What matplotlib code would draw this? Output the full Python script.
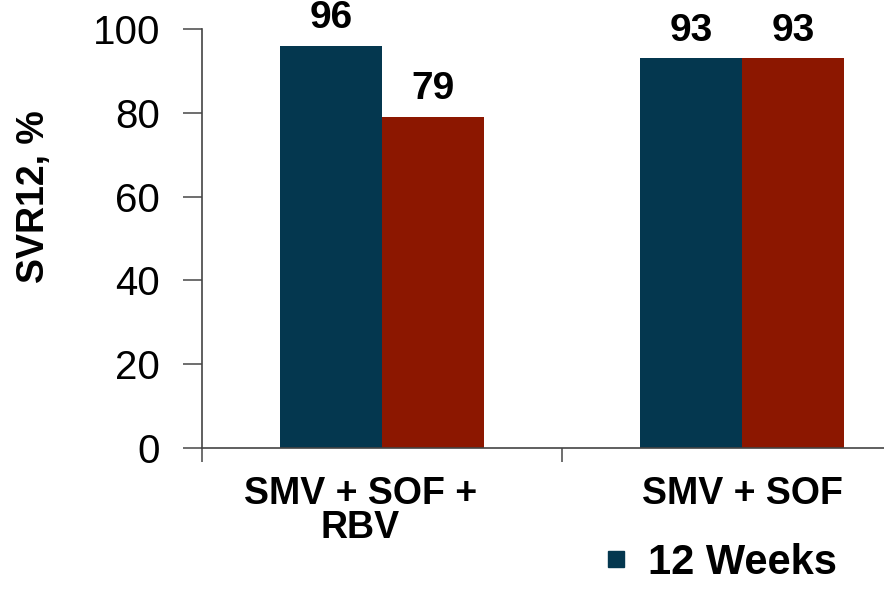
import matplotlib
matplotlib.use("Agg")
import matplotlib.pyplot as plt
from matplotlib.lines import Line2D

categories = ["SMV + SOF +\nRBV", "SMV + SOF"]
series1 = [96, 93]   # 12 Weeks (navy)
series2 = [79, 93]   # (red)
series1_name = "12 Weeks"
yticks = [0, 20, 40, 60, 80, 100]

navy = "#04374F"
red = "#8C1700"

plt.rcParams['font.family'] = ['Liberation Sans', 'DejaVu Sans']

fig = plt.figure(figsize=(8.84, 6.03), dpi=100)
ax = fig.add_axes([202/884, 155/603, 720/884, 419/603])

centers = [0.5, 1.5]
w = 0.283
b1 = ax.bar([c - w/2 for c in centers], series1, width=w, color=navy, label=series1_name)
b2 = ax.bar([c + w/2 for c in centers], series2, width=w, color=red)

for bars, vals in ((b1, series1), (b2, series2)):
    for r, v in zip(bars, vals):
        ax.annotate(f"{v}", (r.get_x() + r.get_width()/2, v), xytext=(0, 7),
                    textcoords="offset points", ha="center", va="bottom",
                    fontsize=28, fontweight="bold")

ax.set_xlim(0, 2)
ax.set_ylim(0, 100)
ax.set_yticks(yticks)
ax.set_yticklabels([str(t) for t in yticks], fontsize=29)
ax.set_xticks([0, 1, 2])
ax.set_xticklabels([])
ax.set_xticks([0.44, 1.5], minor=True)
ax.set_xticklabels(categories, minor=True, fontsize=27, fontweight="bold", linespacing=0.95)
ax.tick_params(axis='x', which='minor', length=0, pad=20)
ax.tick_params(axis='x', which='major', length=10, width=1.2, color="#555555", direction='out')
ax.tick_params(axis='y', length=14, width=1.2, color="#555555", pad=16)

ax.spines['top'].set_visible(False)
ax.spines['right'].set_visible(False)
ax.spines['left'].set_color("#444444")
ax.spines['bottom'].set_color("#444444")
ax.spines['left'].set_linewidth(1.2)
ax.spines['bottom'].set_linewidth(1.2)

ax.set_ylabel("SVR12, %", fontsize=27, fontweight="bold")
ax.yaxis.set_label_coords((34 - 202) / 720, (448 - 197) / 419)
ax.yaxis.label.set_verticalalignment('center')

# legend (single entry)
handle = Line2D([], [], marker='s', linestyle='none', markersize=11.5,
                markerfacecolor=navy, markeredgecolor=navy)
fig.legend(handles=[handle], labels=[series1_name],
           loc="center left", bbox_to_anchor=(590/884, 1 - 563/603), frameon=False,
           prop={'size': 30, 'weight': 'bold'}, handlelength=0.45,
           handletextpad=0.55, borderaxespad=0)

fig.savefig("out.png", dpi=100)
